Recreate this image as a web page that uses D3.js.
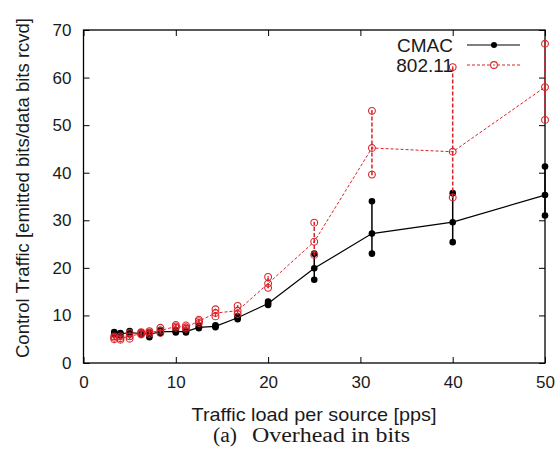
<!DOCTYPE html>
<html>
<head>
<meta charset="utf-8">
<script src="https://cdn.jsdelivr.net/npm/d3@7"></script>
<style>
  body { margin: 0; background: #fff; }
  svg { display: block; }
</style>
</head>
<body>
<div id="chart"></div>
<script>
// data
const loads = [3.33, 4, 5, 6.25, 7.14, 8.33, 10, 11.1, 12.5, 14.3, 16.7, 20, 25, 31.25, 40, 50];

const cmacMean = [6.3, 6.1, 6.4, 6.2, 6.0, 6.6, 6.6, 6.6, 7.5, 7.7, 9.5, 12.5, 19.9, 27.2, 29.6, 35.3];
const cmacLow  = [6.0, 5.8, 6.0, 6.0, 5.4, 6.3, 6.4, 6.4, 7.3, 7.5, 9.2, 12.2, 17.5, 23.0, 25.4, 31.0];
const cmacHigh = [6.5, 6.3, 6.7, 6.4, 6.4, 7.0, 6.9, 6.8, 7.8, 7.9, 9.8, 12.9, 23.0, 34.0, 35.7, 41.3];

const wifiMean = [5.3, 5.2, 5.6, 6.2, 6.4, 6.8, 7.7, 7.5, 8.8, 10.5, 11.0, 16.7, 25.5, 45.2, 44.4, 58.0];
const wifiLow  = [5.0, 4.9, 5.1, 6.0, 6.1, 6.3, 7.4, 7.2, 8.4, 9.8, 10.3, 15.8, 22.7, 39.6, 34.8, 51.1];
const wifiHigh = [5.6, 5.6, 6.3, 6.5, 6.7, 7.4, 8.0, 7.9, 9.1, 11.3, 12.0, 18.1, 29.5, 53.0, 62.2, 67.1];

const xTicks = [0, 10, 20, 30, 40, 50];
const yTicks = [0, 10, 20, 30, 40, 50, 60, 70];

// MARGIN CONVENTIONS
const margin = { top: 30, right: 12, bottom: 91, left: 83.5 };
const outerWidth = 557;
const outerHeight = 454;
const width = outerWidth - margin.left - margin.right;
const height = outerHeight - margin.top - margin.bottom;

const red = "#d8232a";
const sans = "'Liberation Sans', Arial, sans-serif";

const svg = d3.select("#chart").append("svg")
    .attr("width", outerWidth)
    .attr("height", outerHeight)
    .style("font-family", sans);

const g = svg.append("g")
    .attr("transform", `translate(${margin.left}, ${margin.top})`);

// scales
const x = d3.scaleLinear().domain([0, 50]).range([0, width]);
const y = d3.scaleLinear().domain([0, 70]).range([height, 0]);

// axes (gnuplot style: ticks pointing inward, mirrored)
const styleAxis = sel => {
    sel.select(".domain").remove();
    sel.selectAll(".tick line").attr("stroke", "#000").attr("stroke-width", 1);
    sel.selectAll("text").style("font-size", "17px").attr("fill", "#1a1a1a")
        .style("font-family", sans);
};

g.append("g")
    .attr("transform", `translate(0, ${height})`)
    .call(d3.axisBottom(x).tickValues(xTicks).tickSize(-6).tickPadding(13))
    .call(styleAxis);

g.append("g")
    .call(d3.axisTop(x).tickValues(xTicks).tickSize(-6).tickFormat(""))
    .call(styleAxis);

g.append("g")
    .call(d3.axisLeft(y).tickValues(yTicks).tickSize(-6).tickPadding(12))
    .call(styleAxis);

g.append("g")
    .attr("transform", `translate(${width}, 0)`)
    .call(d3.axisRight(y).tickValues(yTicks).tickSize(-6).tickFormat(""))
    .call(styleAxis);

// frame
g.append("rect")
    .attr("width", width)
    .attr("height", height)
    .attr("fill", "none")
    .attr("stroke", "#000")
    .attr("stroke-width", 1.3);

// series
const makeSeries = (mean, low, high) => loads.map((l, i) => ({ x: l, mean: mean[i], low: low[i], high: high[i] }));
const cmac = makeSeries(cmacMean, cmacLow, cmacHigh);
const wifi = makeSeries(wifiMean, wifiLow, wifiHigh);

const line = d3.line().x(d => x(d.x)).y(d => y(d.mean));

// CMAC
const cmacG = g.append("g");
cmacG.selectAll(".err")
    .data(cmac)
    .enter()
    .append("line")
    .attr("x1", d => x(d.x)).attr("x2", d => x(d.x))
    .attr("y1", d => y(d.low)).attr("y2", d => y(d.high))
    .attr("stroke", "#000")
    .attr("stroke-width", 1.5);

cmacG.append("path")
    .datum(cmac)
    .attr("d", line)
    .attr("fill", "none")
    .attr("stroke", "#000")
    .attr("stroke-width", 1.2);

cmacG.selectAll(".pt")
    .data(cmac.flatMap(d => [d.low, d.mean, d.high].map(v => ({ x: d.x, v }))))
    .enter()
    .append("circle")
    .attr("cx", d => x(d.x))
    .attr("cy", d => y(d.v))
    .attr("r", 3.3)
    .attr("fill", "#000");

// 802.11
const wifiG = g.append("g");
wifiG.selectAll(".err")
    .data(wifi)
    .enter()
    .append("line")
    .attr("x1", d => x(d.x)).attr("x2", d => x(d.x))
    .attr("y1", d => y(d.low)).attr("y2", d => y(d.high))
    .attr("stroke", red)
    .attr("stroke-width", 1.5)
    .attr("stroke-dasharray", "4,2");

wifiG.append("path")
    .datum(wifi)
    .attr("d", line)
    .attr("fill", "none")
    .attr("stroke", red)
    .attr("stroke-width", 1)
    .attr("stroke-dasharray", "3,2");

const wifiPts = wifiG.selectAll(".pt")
    .data(wifi.flatMap(d => [d.low, d.mean, d.high].map(v => ({ x: d.x, v }))))
    .enter()
    .append("g")
    .attr("transform", d => `translate(${x(d.x)}, ${y(d.v)})`);
wifiPts.append("circle")
    .attr("r", 3.4)
    .attr("fill", "none")
    .attr("stroke", red)
    .attr("stroke-width", 1.1);
wifiPts.append("circle")
    .attr("r", 0.8)
    .attr("fill", red);

// legend
const legend = svg.append("g");
const legendRows = [
    { label: "CMAC", color: "#000", dash: null, filled: true, y: 45 },
    { label: "802.11", color: red, dash: "3,2", filled: false, y: 65 }
];
legendRows.forEach(r => {
    legend.append("text")
        .attr("x", 453)
        .attr("y", r.y)
        .attr("dy", "0.35em")
        .attr("text-anchor", "end")
        .style("font-size", "19px")
        .attr("fill", "#1a1a1a")
        .text(r.label);
    legend.append("line")
        .attr("x1", 467).attr("x2", 520)
        .attr("y1", r.y).attr("y2", r.y)
        .attr("stroke", r.color)
        .attr("stroke-width", r.filled ? 1.2 : 1)
        .attr("stroke-dasharray", r.dash);
    if (r.filled) {
        legend.append("circle").attr("cx", 494).attr("cy", r.y).attr("r", 3).attr("fill", r.color);
    } else {
        legend.append("circle").attr("cx", 494).attr("cy", r.y).attr("r", 3.4)
            .attr("fill", "#fff").attr("stroke", r.color).attr("stroke-width", 1.1);
        legend.append("circle").attr("cx", 494).attr("cy", r.y).attr("r", 0.8).attr("fill", r.color);
    }
});

// labels
svg.append("text")
    .attr("text-anchor", "middle")
    .attr("x", 314)
    .attr("y", 421)
    .style("font-size", "18.6px")
    .attr("textLength", 245)
    .attr("lengthAdjust", "spacingAndGlyphs")
    .attr("fill", "#1a1a1a")
    .text("Traffic load per source [pps]");

svg.append("text")
    .attr("text-anchor", "middle")
    .attr("transform", "rotate(-90)")
    .attr("x", -188)
    .attr("y", 29)
    .style("font-size", "18.5px")
    .attr("fill", "#1a1a1a")
    .text("Control Traffic [emitted bits/data bits rcvd]");

// caption
const serif = "'Liberation Serif', 'Times New Roman', serif";
svg.append("text")
    .attr("x", 213)
    .attr("y", 442)
    .style("font-size", "20px")
    .style("font-family", serif)
    .attr("textLength", 24)
    .attr("lengthAdjust", "spacingAndGlyphs")
    .attr("fill", "#1a1a1a")
    .text("(a)");
svg.append("text")
    .attr("x", 252)
    .attr("y", 442)
    .style("font-size", "20px")
    .style("font-family", serif)
    .attr("textLength", 158)
    .attr("lengthAdjust", "spacingAndGlyphs")
    .attr("fill", "#1a1a1a")
    .text("Overhead in bits");
</script>
</body>
</html>
